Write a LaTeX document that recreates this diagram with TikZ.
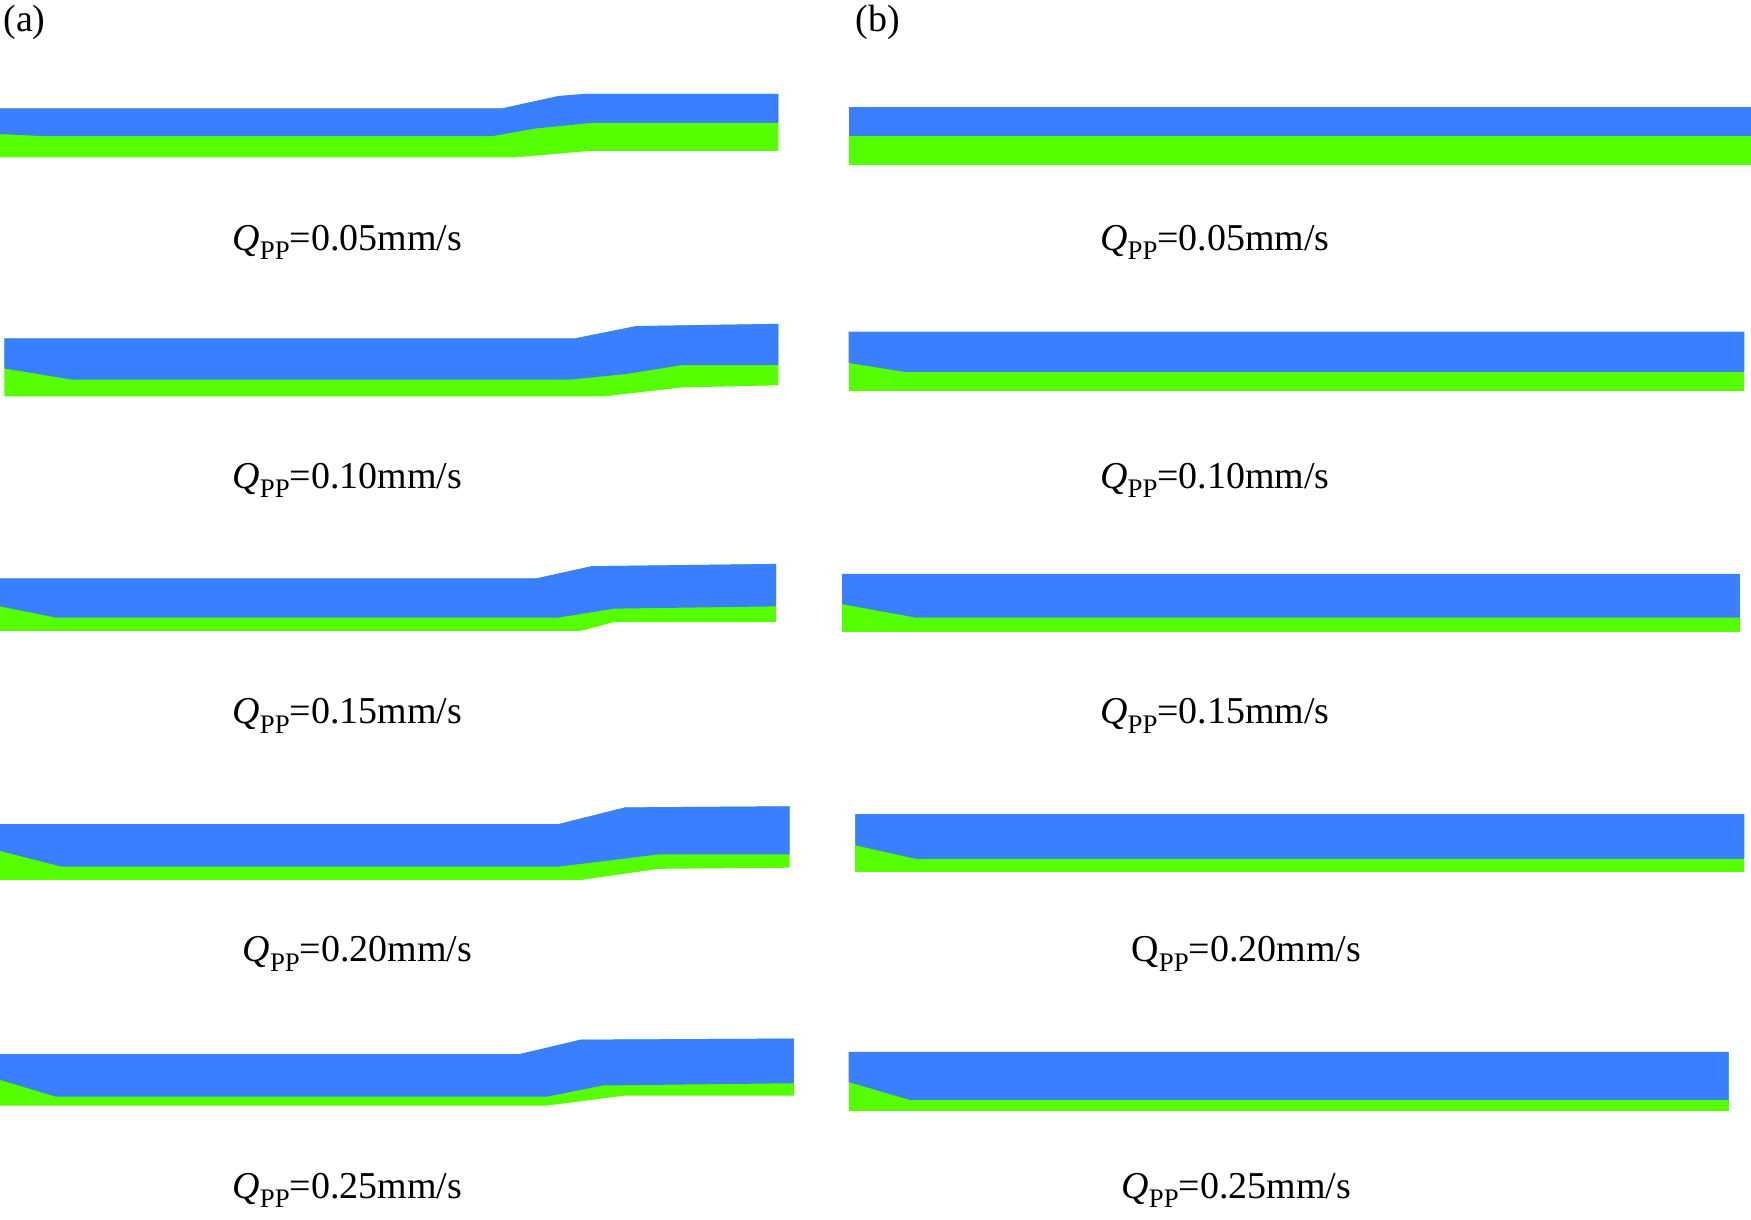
\documentclass[tikz,border=0pt]{standalone}
\usepackage{fontspec}
\setmainfont{Liberation Serif}
\definecolor{lb}{HTML}{3A7FFF}
\definecolor{lg}{HTML}{55FF00}
\tikzset{blue/.style={fill=lb,draw=none},green/.style={fill=lg,draw=none},
lab/.style={font=\fontsize{34}{40}\selectfont,inner sep=0pt}}
\newcommand{\QQ}[1]{\textit{Q}\raisebox{-0.25em}{\fontsize{24}{28}\selectfont PP}=#1mm/s}
\newcommand{\QR}[1]{Q\raisebox{-0.25em}{\fontsize{24}{28}\selectfont PP}=#1mm/s}
\begin{document}
\begin{tikzpicture}[x=1pt,y=-1pt]
\useasboundingbox (0,0) rectangle (1568,1092);
% (a)
\fill[green] (0,97)--(450,97)--(500,86)--(525,84)--(697,84)--(697,135)--(530,135)--(460,141)--(0,141)--cycle;
\fill[blue] (0,97)--(450,97)--(500,86)--(525,84)--(697,84)--(697,110)--(530,110)--(480,115)--(440,122)--(40,122)--(0,120)--cycle;
\fill[green] (4,303)--(515,303)--(570,292)--(697,290)--(697,345)--(610,347)--(540,355)--(4,355)--cycle;
\fill[blue] (4,303)--(515,303)--(570,292)--(697,290)--(697,327)--(610,327)--(560,335)--(510,340)--(65,340)--(4,330)--cycle;
\fill[green] (0,518)--(480,518)--(530,507)--(695,505)--(695,557)--(550,557)--(520,565)--(0,565)--cycle;
\fill[blue] (0,518)--(480,518)--(530,507)--(695,505)--(695,543)--(550,545)--(500,553)--(50,553)--(0,543)--cycle;
\fill[green] (0,738)--(500,738)--(560,723)--(707,722)--(707,777)--(590,778)--(520,788)--(0,788)--cycle;
\fill[blue] (0,738)--(500,738)--(560,723)--(707,722)--(707,765)--(590,765)--(550,770)--(500,776)--(55,776)--(0,762)--cycle;
\fill[green] (0,944)--(465,944)--(520,931)--(711,930)--(711,981)--(560,981)--(490,990)--(0,990)--cycle;
\fill[blue] (0,944)--(465,944)--(520,931)--(711,930)--(711,970)--(540,972)--(490,982)--(50,982)--(0,967)--cycle;
% (b)
\fill[green] (760,96) rectangle (1568,148);
\fill[blue] (760,96) rectangle (1568,122);
\fill[green] (760,297) rectangle (1562,350);
\fill[blue] (760,297)--(1562,297)--(1562,333)--(810,333)--(760,325)--cycle;
\fill[green] (754,514) rectangle (1558,566);
\fill[blue] (754,514)--(1558,514)--(1558,553)--(820,553)--(754,541)--cycle;
\fill[green] (766,729) rectangle (1562,781);
\fill[blue] (766,729)--(1562,729)--(1562,769)--(820,769)--(766,757)--cycle;
\fill[green] (760,942) rectangle (1548,995);
\fill[blue] (760,942)--(1548,942)--(1548,985)--(815,985)--(760,969)--cycle;
% labels
\node[lab] (ta) at (22,20) {(a)};
\node[lab] (tb) at (786,20) {(b)};
\node[lab] (a1) at (311,217) {\QQ{0.05}};
\node[lab] (a2) at (311,430) {\QQ{0.10}};
\node[lab] (a3) at (311,641) {\QQ{0.15}};
\node[lab] (a4) at (320,854) {\QQ{0.20}};
\node[lab] (a5) at (311,1066) {\QQ{0.25}};
\node[lab] (b1) at (1088,217) {\QQ{0.05}};
\node[lab] (b2) at (1088,430) {\QQ{0.10}};
\node[lab] (b3) at (1088,641) {\QQ{0.15}};
\node[lab] (b4) at (1116,854) {\QR{0.20}};
\node[lab] (b5) at (1107,1066) {\QQ{0.25}};
\end{tikzpicture}
\end{document}
